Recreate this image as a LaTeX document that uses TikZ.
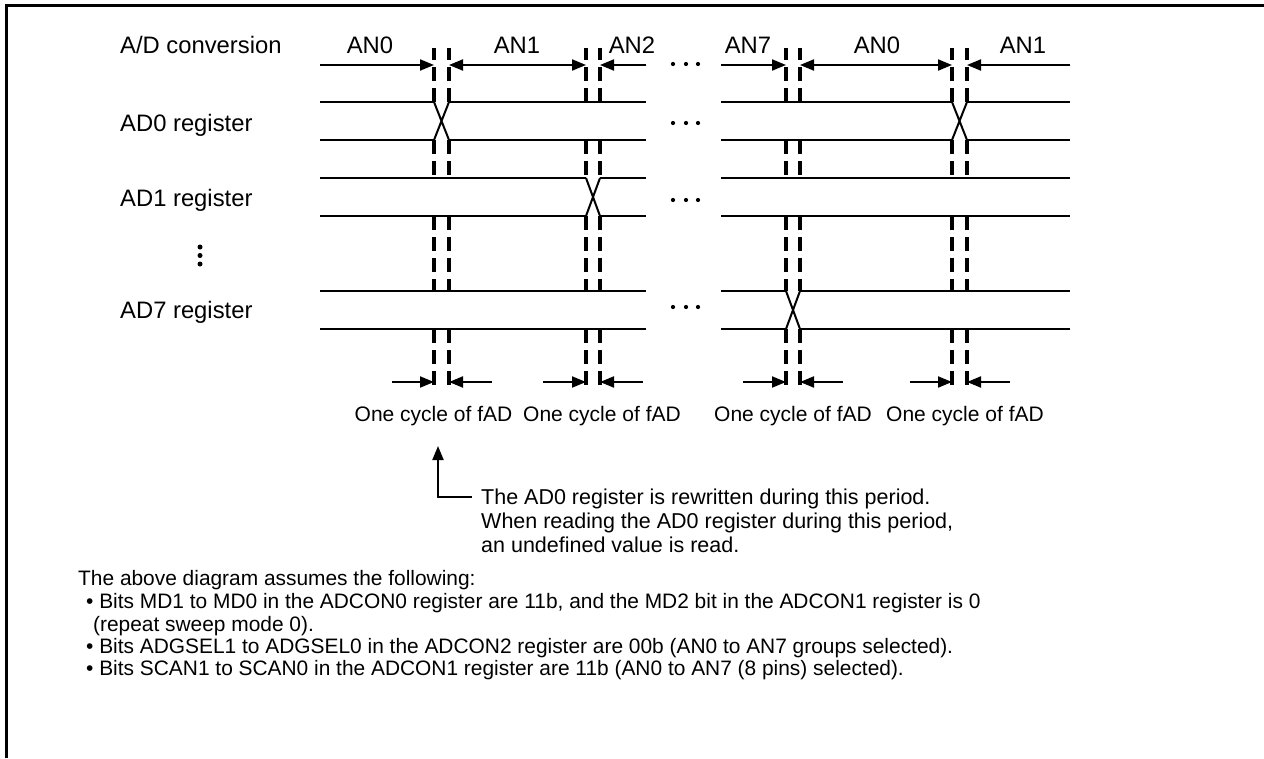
\documentclass[tikz,border=0pt]{standalone}
\usepackage{fontspec}
\setmainfont{Liberation Sans}
\usetikzlibrary{arrows.meta}
\begin{document}
\begin{tikzpicture}[x=1pt,y=-1pt,
  frame/.style={line width=3pt},
  sig/.style={line width=2pt},
  vdash/.style={line width=3.2pt,dash pattern=on 14pt off 7pt},
  arrr/.style={line width=2pt,-{Triangle[length=14pt,width=11pt]}},
  arrb/.style={line width=2pt,{Triangle[length=14pt,width=11pt]}-{Triangle[length=14pt,width=11pt]}},
  lblbig/.style={font=\fontsize{23.8}{28}\selectfont,inner sep=0pt},
  lblsmall/.style={font=\fontsize{21}{24}\selectfont,inner sep=0pt},
  lbltext/.style={font=\fontsize{21.5}{24}\selectfont,inner sep=0pt,anchor=base west},
  lblnote/.style={font=\fontsize{20.9}{24}\selectfont,inner sep=0pt,anchor=base west},
  edot/.style={circle,fill,inner sep=0pt,minimum size=4.2pt},
  vdot/.style={circle,fill,inner sep=0pt,minimum size=5pt},
]
\useasboundingbox (0,0) rectangle (1264,758);
% frame
\coordinate (fBL) at (6,758);
\coordinate (fTL) at (6,5);
\coordinate (fTR) at (1264,5);
\draw[frame] (fBL) -- (fTL) -- (fTR);

% row labels
\node[lblbig,anchor=base west] (tConv) at (120,53) {A/D conversion};
\node[lblbig,anchor=base west] (tAD0) at (120,131.5) {AD0 register};
\node[lblbig,anchor=base west] (tAD1) at (120,206.5) {AD1 register};
\node[lblbig,anchor=base west] (tAD7) at (120,318) {AD7 register};
\node[vdot] (vd1) at (200,247) {};
\node[vdot] (vd2) at (200,255.5) {};
\node[vdot] (vd3) at (200,264) {};

% channel labels
\node[lblbig,anchor=base] (an0a) at (370,53) {AN0};
\node[lblbig,anchor=base] (an1a) at (517,53) {AN1};
\node[lblbig,anchor=base] (an2a) at (632,53) {AN2};
\node[lblbig,anchor=base] (an7a) at (748,53) {AN7};
\node[lblbig,anchor=base] (an0b) at (877,53) {AN0};
\node[lblbig,anchor=base] (an1b) at (1023,53) {AN1};

% ellipsis dots
\foreach \y [count=\i] in {64,123,200,307}{
  \node[edot] (el\i a) at (673,\y) {};
  \node[edot] (el\i b) at (686,\y) {};
  \node[edot] (el\i c) at (698,\y) {};
}

% dashed guide lines
\foreach \x in {434,449,586,600,786,800,952,967}{
  \draw[vdash] (\x,102) -- (\x,48);
  \draw[vdash] (\x,140) -- (\x,178);
  \draw[vdash] (\x,216) -- (\x,291);
  \draw[vdash] (\x,329) -- (\x,390);
}

% A/D conversion arrows
\draw[arrr] (320,65) -- (434,65);
\draw[arrb] (449,65) -- (586,65);
\draw[arrr] (646,65) -- (600,65);
\draw[arrr] (721,65) -- (786,65);
\draw[arrb] (800,65) -- (952,65);
\draw[arrr] (1070,65) -- (967,65);

% AD0 register
\foreach \y in {102,140}{
  \draw[sig] (320,\y) -- (434,\y) (449,\y) -- (646,\y) (721,\y) -- (952,\y) (967,\y) -- (1070,\y);
}
\draw[sig] (434,102) -- (449,140) (449,102) -- (434,140);
\draw[sig] (952,102) -- (967,140) (967,102) -- (952,140);

% AD1 register
\foreach \y in {178,216}{
  \draw[sig] (320,\y) -- (586,\y) (600,\y) -- (646,\y) (721,\y) -- (1070,\y);
}
\draw[sig] (586,178) -- (600,216) (600,178) -- (586,216);

% AD7 register
\foreach \y in {291,329}{
  \draw[sig] (320,\y) -- (646,\y) (721,\y) -- (786,\y) (800,\y) -- (1070,\y);
}
\draw[sig] (786,291) -- (800,329) (800,291) -- (786,329);

% fAD arrows
\draw[arrr] (392,382) -- (434,382);
\draw[arrr] (492,382) -- (449,382);
\draw[arrr] (543,382) -- (586,382);
\draw[arrr] (643,382) -- (600,382);
\draw[arrr] (743,382) -- (786,382);
\draw[arrr] (843,382) -- (800,382);
\draw[arrr] (910,382) -- (952,382);
\draw[arrr] (1010,382) -- (967,382);

\node[lblsmall,anchor=base] (f1) at (433.5,421.5) {One cycle of fAD};
\node[lblsmall,anchor=base] (f2) at (602,421.5) {One cycle of fAD};
\node[lblsmall,anchor=base] (f3) at (793,421.5) {One cycle of fAD};
\node[lblsmall,anchor=base] (f4) at (965,421.5) {One cycle of fAD};

% callout
\coordinate (cEnd) at (472,497);
\coordinate (cCorner) at (438,497);
\coordinate (cTip) at (438,446);
\draw[arrr] (cEnd) -- (cCorner) -- (cTip);
\node[lbltext] (n1) at (481,504) {The AD0 register is rewritten during this period.};
\node[lbltext] (n2) at (481,528) {When reading the AD0 register during this period,};
\node[lbltext] (n3) at (481,552) {an undefined value is read.};

% notes
\node[lblnote] (b0) at (78,585) {The above diagram assumes the following:};
\node[lblnote] (b1) at (86,608) {• Bits MD1 to MD0 in the ADCON0 register are 11b, and the MD2 bit in the ADCON1 register is 0};
\node[lblnote] (b2) at (93,631) {(repeat sweep mode 0).};
\node[lblnote] (b3) at (86,653) {• Bits ADGSEL1 to ADGSEL0 in the ADCON2 register are 00b (AN0 to AN7 groups selected).};
\node[lblnote] (b4) at (86,675) {• Bits SCAN1 to SCAN0 in the ADCON1 register are 11b (AN0 to AN7 (8 pins) selected).};
\end{tikzpicture}
\end{document}
